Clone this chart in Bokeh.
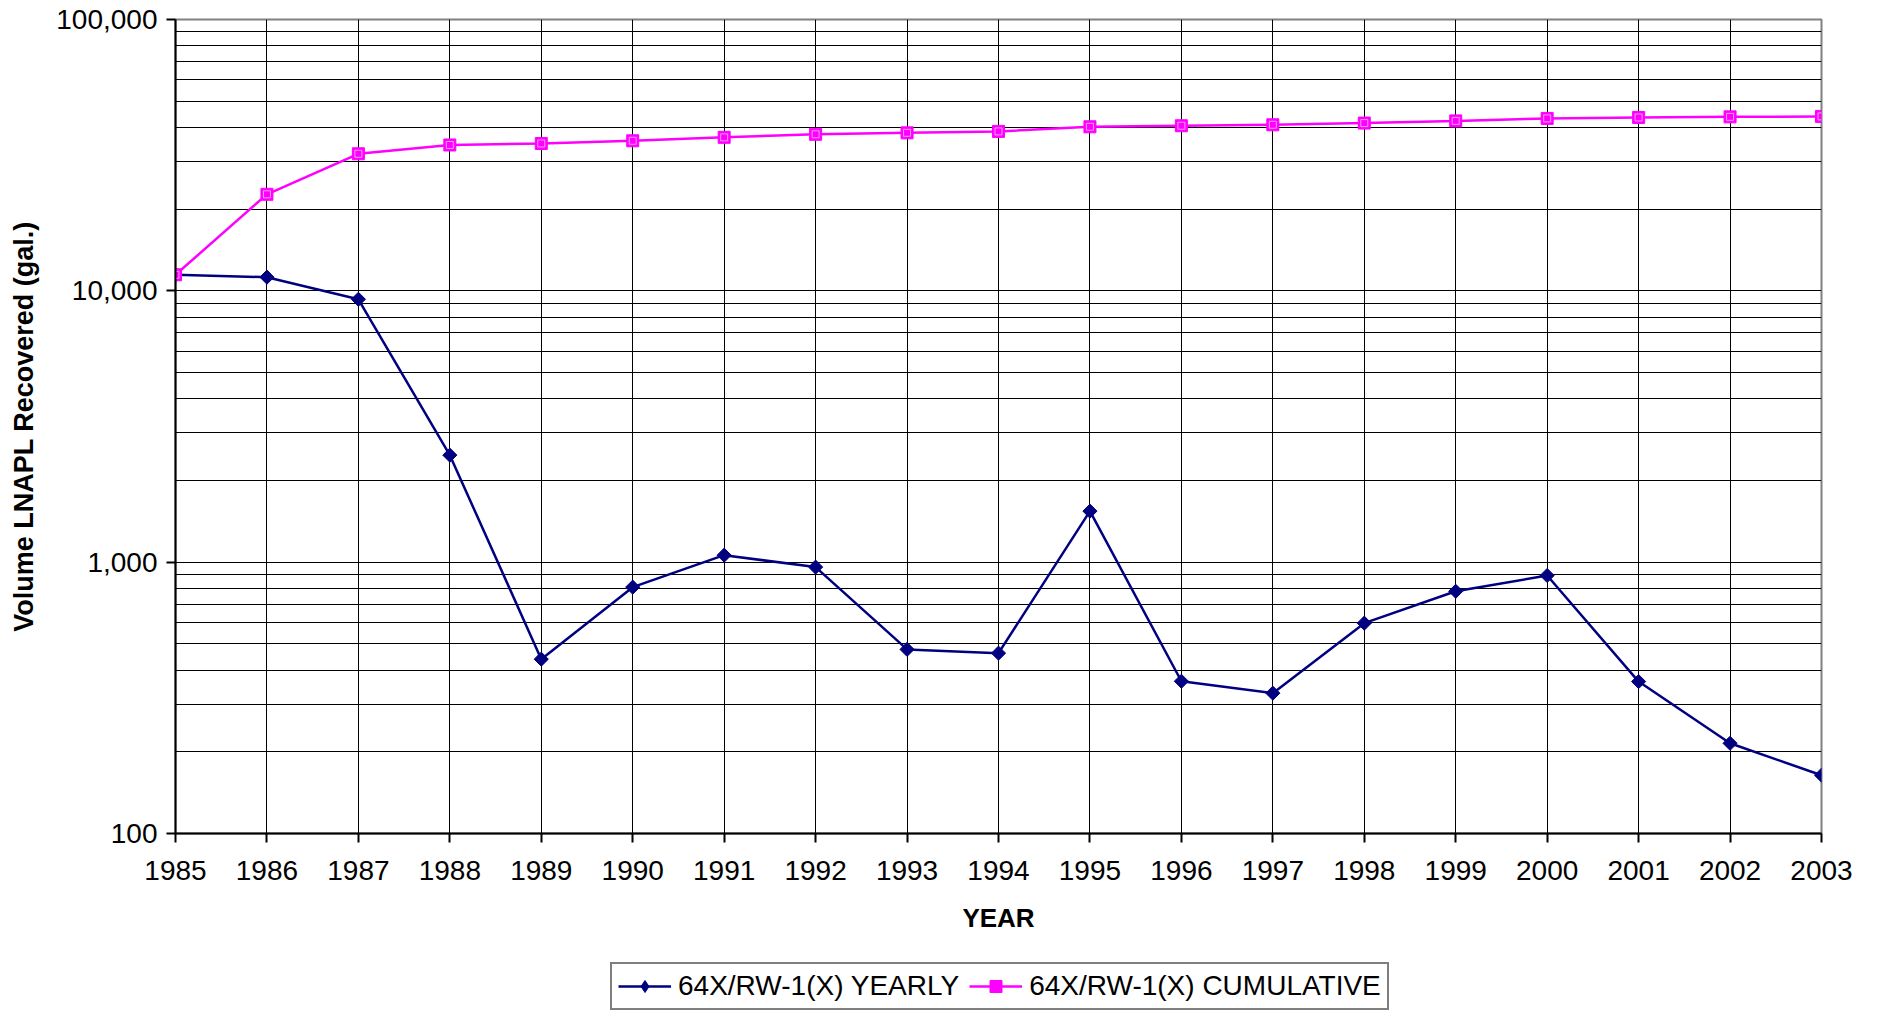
import numpy as np
from bokeh.plotting import figure
from bokeh.layouts import column
from bokeh.models import Range1d, FixedTicker, Legend, LegendItem, NumeralTickFormatter
from bokeh.embed import file_html
from bokeh.resources import INLINE

# ---- data ----
years = [1985, 1986, 1987, 1988, 1989, 1990, 1991, 1992, 1993, 1994,
         1995, 1996, 1997, 1998, 1999, 2000, 2001, 2002, 2003]
yearly = [11460, 11230, 9310, 2480, 439, 809, 1061, 959, 477, 462,
          1542, 364, 329, 596, 781, 893, 363, 215, 164]
cumulative = [11460, 22690, 32000, 34480, 34920, 35730, 36790, 37750, 38220, 38690,
              40230, 40590, 40920, 41520, 42300, 43190, 43550, 43770, 43930]
y_ticks = [100, 1000, 10000, 100000]
y_minor = [m * d for d in (100, 1000, 10000) for m in range(2, 10)]
series_names = ["64X/RW-1(X) YEARLY", "64X/RW-1(X) CUMULATIVE"]

FONT = "Liberation Sans"
NAVY = "#000080"
MAGENTA = "#FF00FF"

p = figure(frame_width=1646, frame_height=814,
           x_range=Range1d(1985, 2003), y_range=Range1d(100, 100000),
           y_axis_type="log", output_backend="svg", toolbar_location=None,
           min_border_left=175, min_border_top=19, min_border_right=50,
           min_border_bottom=125,
           background_fill_color="white", border_fill_color="white")
p.outline_line_color = "#808080"
p.outline_line_width = 2

# x axis
xa = p.xaxis[0]
xa.ticker = FixedTicker(ticks=years)
xa.axis_label = "YEAR"
xa.axis_label_text_font = FONT
xa.axis_label_text_font_style = "bold"
xa.axis_label_text_font_size = "26px"
xa.axis_label_text_color = "black"
xa.axis_label_standoff = 20
xa.major_label_text_font = FONT
xa.major_label_text_font_size = "28px"
xa.major_label_text_color = "black"
xa.major_label_standoff = 18
xa.major_tick_out = 9
xa.major_tick_in = 0
xa.minor_tick_out = 0
xa.minor_tick_in = 0
xa.axis_line_width = 2
xa.axis_line_color = "black"
xa.major_tick_line_width = 2

# y axis
ya = p.yaxis[0]
ya.ticker = FixedTicker(ticks=y_ticks, minor_ticks=y_minor)
ya.formatter = NumeralTickFormatter(format="0,0")
ya.axis_label = "Volume LNAPL Recovered (gal.)"
ya.axis_label_text_font = FONT
ya.axis_label_text_font_style = "bold"
ya.axis_label_text_font_size = "27px"
ya.axis_label_text_color = "black"
ya.axis_label_standoff = 14
ya.major_label_text_font = FONT
ya.major_label_text_font_size = "28px"
ya.major_label_text_color = "black"
ya.major_label_standoff = 9
ya.major_tick_out = 9
ya.major_tick_in = 0
ya.minor_tick_out = 0
ya.minor_tick_in = 0
ya.axis_line_width = 2
ya.axis_line_color = "black"
ya.major_tick_line_width = 2

# grids
for g in (p.xgrid, p.ygrid):
    g.grid_line_color = "black"
    g.grid_line_width = 1
    g.grid_line_alpha = 1
p.ygrid.minor_grid_line_color = "black"
p.ygrid.minor_grid_line_width = 1
p.ygrid.minor_grid_line_alpha = 1

# series on the chart
p.line(years, yearly, line_color=NAVY, line_width=2.5)
p.scatter(years, yearly, marker="square", angle=np.pi / 4, size=10,
          fill_color=NAVY, line_color=NAVY)
p.line(years, cumulative, line_color=MAGENTA, line_width=2.5)
p.scatter(years, cumulative, marker="square", size=12,
          fill_color=MAGENTA, line_color=MAGENTA)
p.scatter(years, cumulative, marker="square", size=7,
          fill_alpha=0, line_color="white", line_width=1, line_alpha=0.6)

# legend strip below the chart (its own renderers, drawn off-frame)
p2 = figure(width=1871, height=52, x_range=Range1d(0, 1), y_range=Range1d(0, 1),
            x_axis_location=None, y_axis_location=None,
            output_backend="svg", toolbar_location=None,
            min_border_left=0, min_border_right=0, min_border_top=0, min_border_bottom=0,
            background_fill_color="white", border_fill_color="white")
p2.outline_line_color = None
p2.grid.visible = False
lg1 = p2.line(years, yearly, line_color=NAVY, line_width=2.5)
sg1 = p2.scatter(years, yearly, marker="diamond", size=12,
                 fill_color=NAVY, line_color=NAVY)
lg2 = p2.line(years, cumulative, line_color=MAGENTA, line_width=2.5)
sg2 = p2.scatter(years, cumulative, marker="square", size=12,
                 fill_color=MAGENTA, line_color=MAGENTA)

legend = Legend(items=[LegendItem(label=series_names[0], renderers=[lg1, sg1]),
                       LegendItem(label=series_names[1], renderers=[lg2, sg2])],
                orientation="horizontal", location=(435, 0),
                label_text_font=FONT, label_text_font_size="28px",
                label_text_color="black",
                glyph_width=53, glyph_height=30, label_height=27,
                label_standoff=7, spacing=10, padding=6, margin=0,
                border_line_color="black", border_line_width=2,
                background_fill_color="white")
p2.add_layout(legend, "center")

layout = column(p, p2, spacing=0)
open("out.html", "w").write(file_html(layout, INLINE))
